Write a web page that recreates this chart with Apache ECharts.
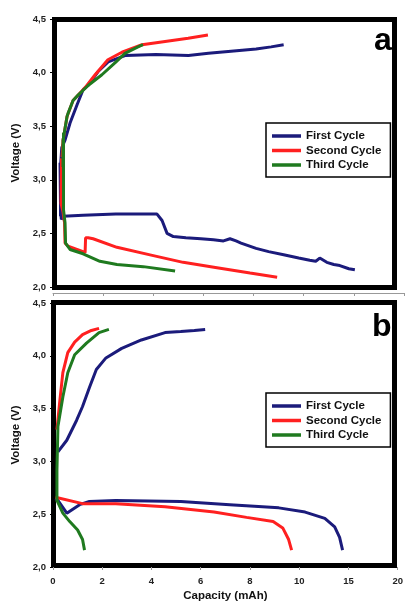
<!DOCTYPE html>
<html>
<head>
<meta charset="utf-8">
<script src="https://cdn.jsdelivr.net/npm/echarts@6/dist/echarts.min.js"></script>
<style>
html,body{margin:0;padding:0;background:#fff;}
#chart{width:406px;height:608px;}
</style>
</head>
<body>
<div id="chart"></div>
<script>
// ---- data (capacity in mAh, voltage in V) ----
const seriesNames = ['First Cycle', 'Second Cycle', 'Third Cycle'];
const xTickLabels = ['0', '2', '4', '6', '8', '10', '15', '20'];
const yTickValues = [2.0, 2.5, 3.0, 3.5, 4.0, 4.5];

// Panel a
const firstChargeA = [[0.30,2.66],[0.31,3.16],[0.35,3.30],[0.48,3.37],[0.68,3.53],[0.96,3.70],[1.20,3.84],[1.40,3.88],[1.80,4.01],[2.20,4.10],[2.90,4.16],[4.10,4.17],[5.40,4.16],[6.20,4.18],[7.10,4.20],[8.10,4.22],[8.70,4.24],[9.20,4.26]];
const firstDischargeA = [[0.28,3.16],[0.30,2.75],[0.33,2.63],[0.40,2.66],[1.20,2.67],[2.50,2.68],[4.15,2.68],[4.35,2.62],[4.55,2.50],[4.80,2.47],[5.30,2.46],[5.90,2.45],[6.40,2.44],[6.80,2.43],[7.06,2.45],[7.30,2.43],[7.50,2.41],[8.10,2.36],[8.60,2.33],[9.20,2.30],[9.80,2.27],[10.6,2.25],[11.2,2.24],[11.6,2.27],[12.3,2.23],[13.0,2.21],[13.6,2.20],[14.5,2.17],[15.1,2.16]];
const secondChargeA = [[0.36,3.21],[0.40,3.37],[0.56,3.59],[0.80,3.74],[1.20,3.84],[1.28,3.86],[1.68,3.98],[2.19,4.12],[2.75,4.19],[3.55,4.26],[4.47,4.29],[5.39,4.32],[6.18,4.35]];
const secondDischargeA = [[0.34,3.20],[0.32,2.78],[0.40,2.70],[0.46,2.60],[0.48,2.41],[0.60,2.38],[1.20,2.33],[1.28,2.32],[1.30,2.46],[1.40,2.46],[1.60,2.45],[2.55,2.37],[3.87,2.30],[5.19,2.23],[6.54,2.18],[7.86,2.13],[8.94,2.09]];
const thirdChargeA = [[0.40,3.12],[0.40,3.37],[0.56,3.59],[0.60,3.62],[0.80,3.74],[1.00,3.79],[1.40,3.88],[1.95,3.98],[2.47,4.09],[2.87,4.18],[3.39,4.24],[3.59,4.26]];
const thirdDischargeA = [[0.42,3.44],[0.42,2.72],[0.48,2.60],[0.50,2.41],[0.68,2.35],[1.20,2.31],[1.87,2.24],[2.55,2.21],[3.60,2.19],[4.87,2.15]];

// Panel b
const firstChargeB = [[0.20,3.09],[0.56,3.20],[0.96,3.39],[1.20,3.52],[1.48,3.70],[1.76,3.87],[2.15,3.98],[2.79,4.07],[3.59,4.15],[4.55,4.22],[5.19,4.23],[5.74,4.24],[6.18,4.25]];
const firstDischargeB = [[0.10,2.65],[0.20,2.63],[0.56,2.51],[1.08,2.59],[1.48,2.62],[2.55,2.63],[5.19,2.62],[7.18,2.59],[9.17,2.56],[10.6,2.52],[12.6,2.46],[13.6,2.38],[14.1,2.28],[14.4,2.16]];
const secondChargeB = [[0.16,3.30],[0.28,3.58],[0.40,3.84],[0.60,4.03],[0.88,4.13],[1.20,4.20],[1.56,4.24],[1.87,4.26]];
const secondDischargeB = [[0.10,2.66],[1.20,2.60],[2.55,2.60],[4.55,2.57],[6.54,2.52],[7.86,2.47],[8.94,2.43],[9.33,2.37],[9.57,2.26],[9.69,2.16]];
const thirdChargeB = [[0.16,2.62],[0.16,2.92],[0.20,3.33],[0.40,3.61],[0.60,3.84],[0.88,4.01],[1.36,4.12],[1.87,4.22],[2.27,4.25]];
const thirdDischargeB = [[0.16,2.63],[0.40,2.51],[0.68,2.43],[1.00,2.35],[1.20,2.26],[1.28,2.16]];

// ---- build ----
const colors = ['#1b1b7b', '#ff2020', '#1f7a1f'];
const FONT = '"Liberation Sans", Arial, sans-serif';

// axis labels 0..10 step 2, then 15, 20 at equal spacing
function capToAxis(c) { return c <= 10 ? c : 10 + (c - 10) / 2.5; }
function mapData(arr) { return arr.map(p => [capToAxis(p[0]), p[1]]); }

function mk(name, data, idx, grid) {
  return {
    type: 'line', name: name, data: mapData(data),
    xAxisIndex: grid, yAxisIndex: grid,
    showSymbol: false, symbol: 'none', animation: false,
    lineStyle: { width: 3, color: colors[idx] },
    itemStyle: { color: colors[idx] },
    z: 3
  };
}

const series = [
  mk(seriesNames[0], firstChargeA, 0, 0), mk(seriesNames[0], firstDischargeA, 0, 0),
  mk(seriesNames[1], secondChargeA, 1, 0), mk(seriesNames[1], secondDischargeA, 1, 0),
  mk(seriesNames[2], thirdChargeA, 2, 0), mk(seriesNames[2], thirdDischargeA, 2, 0),
  mk(seriesNames[0], firstChargeB, 0, 1), mk(seriesNames[0], firstDischargeB, 0, 1),
  mk(seriesNames[1], secondChargeB, 1, 1), mk(seriesNames[1], secondDischargeB, 1, 1),
  mk(seriesNames[2], thirdChargeB, 2, 1), mk(seriesNames[2], thirdDischargeB, 2, 1)
];

function yAxis(grid) {
  return {
    type: 'value', gridIndex: grid, min: yTickValues[0], max: yTickValues[yTickValues.length - 1], interval: 0.5,
    name: 'Voltage (V)', nameLocation: 'middle', nameGap: 26,
    nameTextStyle: { fontFamily: FONT, fontWeight: 'bold', fontSize: 11.5, color: '#111' },
    axisLine: { show: false },
    axisTick: { show: true, length: 3, lineStyle: { color: '#000' } },
    splitLine: { show: false },
    axisLabel: { fontFamily: FONT, fontWeight: 'bold', fontSize: 9.5, color: '#222', margin: 7,
      formatter: v => v.toFixed(1).replace('.', ',') }
  };
}
function xAxis(grid, showLabels) {
  const ax = {
    type: 'value', gridIndex: grid, min: 0, max: 14, interval: 2,
    axisLine: { show: !showLabels, onZero: false, lineStyle: { color: '#999', width: 1 } },
    offset: showLabels ? 0 : 6,
    axisTick: { show: true, length: 3, lineStyle: { color: '#999' } },
    splitLine: { show: false },
    axisLabel: { show: showLabels, fontFamily: FONT, fontWeight: 'bold', fontSize: 9.5, color: '#222', margin: 9,
      formatter: v => xTickLabels[Math.round(v / 2)] }
  };
  if (showLabels) {
    ax.name = 'Capacity (mAh)'; ax.nameLocation = 'middle'; ax.nameGap = 23;
    ax.nameTextStyle = { fontFamily: FONT, fontWeight: 'bold', fontSize: 11.5, color: '#111' };
  }
  return ax;
}
function hiddenAxis(grid) { return { type: 'value', gridIndex: grid, show: false, min: 0, max: 1 }; }

function legend(top) {
  return {
    data: seriesNames, orient: 'vertical', left: 266, top: top,
    padding: [7, 9, 6, 6], itemGap: 2.5, itemWidth: 29, itemHeight: 3.5, icon: 'rect',
    borderColor: '#000', borderWidth: 1.5, backgroundColor: '#fff', borderRadius: 0,
    selectedMode: false,
    textStyle: { fontFamily: FONT, fontWeight: 'bold', fontSize: 11.5, color: '#111' }
  };
}

const option = {
  backgroundColor: '#fff',
  animation: false,
  title: [
    { text: 'a', left: 369, top: 20, textStyle: { fontFamily: FONT, fontWeight: 'bold', fontSize: 32, color: '#000' } },
    { text: 'b', left: 367, top: 306, textStyle: { fontFamily: FONT, fontWeight: 'bold', fontSize: 32, color: '#000' } }
  ],
  legend: [legend(123), legend(393)],
  grid: [
    { left: 53, right: 2, top: 19, height: 268 },
    { left: 53, right: 2, top: 303, height: 264 },
    { left: 54.5, top: 19.5, width: 340, height: 268, show: true, borderWidth: 5, borderColor: '#000', backgroundColor: 'transparent' },
    { left: 53.5, top: 302.5, width: 341, height: 263, show: true, borderWidth: 5, borderColor: '#000', backgroundColor: 'transparent' }
  ],
  xAxis: [xAxis(0, false), xAxis(1, true), hiddenAxis(2), hiddenAxis(3)],
  yAxis: [yAxis(0), yAxis(1), hiddenAxis(2), hiddenAxis(3)],
  series: series
};

const chart = echarts.init(document.getElementById('chart'), null, { renderer: 'canvas' });
chart.setOption(option);
</script>
</body>
</html>
